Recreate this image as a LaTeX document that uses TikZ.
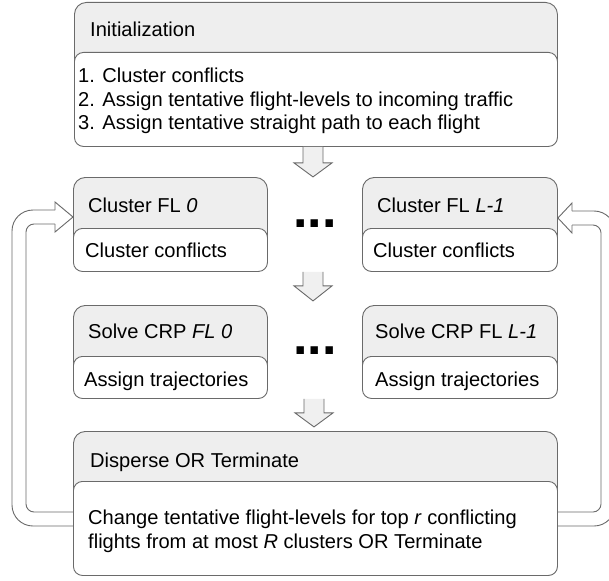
\documentclass[tikz,border=0pt]{standalone}
\usepackage{fontspec}
\setmainfont{Liberation Sans}
\usetikzlibrary{calc}
\definecolor{linec}{HTML}{6A6A6A}
\definecolor{hdrfill}{HTML}{EEEEEE}
\definecolor{arrfill}{HTML}{F0F0F0}
\newcommand\fs{\fontsize{20.1}{23.5}\selectfont}
\tikzset{
  outerbox/.style={draw=linec, fill=hdrfill, line width=0.9pt, rounded corners=12pt, inner sep=0pt, anchor=north west},
  bodybox/.style={draw=linec, fill=white, line width=0.9pt, rounded corners=9pt, inner sep=0pt, anchor=north west},
  lbl/.style={anchor=base west, inner sep=0pt, font=\fs},
  dots/.style={anchor=base, inner sep=0pt, font=\fontsize{52}{52}\selectfont\bfseries},
  blk/.style={draw=linec, fill=arrfill, line width=0.9pt, line join=miter},
  fb/.style={draw=linec, line width=0.9pt},
}
\begin{document}
\begin{tikzpicture}[x=1pt,y=-1pt]
\clip (0,0) rectangle (609,580);
\fill[white] (0,0) rectangle (609,580);

% Initialization
\node[outerbox, minimum width=483pt, minimum height=144pt] (init) at (74,2) {};
\node[bodybox, minimum width=483pt, minimum height=94pt] (initb) at (74,52) {};
\node[lbl] (initt) at (90,37) {Initialization};
\node[lbl] (i1) at (78,83) {1. Cluster conflicts};
\node[lbl] (i2) at (78,107) {2. Assign tentative flight-levels to incoming traffic};
\node[lbl] (i3) at (78,130) {3. Assign tentative straight path to each flight};

% Cluster FL boxes
\node[outerbox, minimum width=194pt, minimum height=94pt] (c0) at (73,177) {};
\node[bodybox, minimum width=194pt, minimum height=43pt] (c0b) at (73,228) {};
\node[lbl] (c0t) at (88,212) {Cluster FL \textit{0}};
\node[lbl] (c0x) at (85,257) {Cluster conflicts};

\node[outerbox, minimum width=195pt, minimum height=94pt] (cL) at (362,177) {};
\node[bodybox, minimum width=195pt, minimum height=43pt] (cLb) at (362,228) {};
\node[lbl] (cLt) at (377,212) {Cluster FL \textit{L-1}};
\node[lbl] (cLx) at (373,257) {Cluster conflicts};

\node[dots] (d1) at (315,227) {...};

% Solve CRP boxes
\node[outerbox, minimum width=194pt, minimum height=93pt] (s0) at (73,305) {};
\node[bodybox, minimum width=194pt, minimum height=42pt] (s0b) at (73,356) {};
\node[lbl] (s0t) at (88,338) {Solve CRP \textit{FL 0}};
\node[lbl] (s0x) at (84,386) {Assign trajectories};

\node[outerbox, minimum width=195pt, minimum height=93pt] (sL) at (362,305) {};
\node[bodybox, minimum width=195pt, minimum height=42pt] (sLb) at (362,356) {};
\node[lbl] (sLt) at (375,338) {Solve CRP FL \textit{L-1}};
\node[lbl] (sLx) at (375,386) {Assign trajectories};

\node[dots] (d2) at (315,354) {...};

% Disperse
\node[outerbox, minimum width=484pt, minimum height=144pt] (disp) at (73,431) {};
\node[bodybox, minimum width=484pt, minimum height=94pt] (dispb) at (73,481) {};
\node[lbl] (dispt) at (90,467) {Disperse OR Terminate};
\node[lbl] (dx1) at (88,524) {Change tentative flight-levels for top \textit{r} conflicting};
\node[lbl] (dx2) at (88,548) {flights from at most \textit{R} clusters OR Terminate};

% Block arrows (down)
\coordinate (a1) at (init.south -| 313,0);
\coordinate (a2) at (c0.south -| 313,0);
\coordinate (a3) at (s0.south -| 314,0);
\foreach \a/\sh/\hd in {a1/16/14, a2/14/15, a3/14/14} {
  \draw[blk] ($(\a)+(-10,0)$) -- ++(0,\sh) -- ++(-9,0) -- ($(\a)+(0,\sh+\hd)$)
     -- ($(\a)+(19,\sh)$) -- ++(-9,0) -- ($(\a)+(10,0)$);
}

% Feedback arrow, left
\coordinate (Ls) at (disp.west |- 0,519);
\coordinate (Lt) at (c0.west |- 0,217);
\draw[fb, rounded corners=8pt] ($(Ls)+(0,-7)$) -- (26,512) -- (26,224) -- (55,224);
\draw[fb, rounded corners=21pt] ($(Ls)+(0,7)$) -- (12,526) -- (12,210) -- (55,210);
\draw[fb, line join=miter] (55,210) -- (55,202) -- (Lt) -- (55,232) -- (55,224);

% Feedback arrow, right
\coordinate (Rs) at (disp.east |- 0,519);
\coordinate (Rt) at (cL.east |- 0,218);
\draw[fb, rounded corners=8pt] ($(Rs)+(0,-7)$) -- (601,512) -- (601,225) -- (572,225);
\draw[fb, rounded corners=21pt] ($(Rs)+(0,7)$) -- (615,526) -- (615,211) -- (572,211);
\draw[fb, line join=miter] (572,211) -- (572,203) -- (Rt) -- (572,233) -- (572,225);
\end{tikzpicture}
\end{document}
